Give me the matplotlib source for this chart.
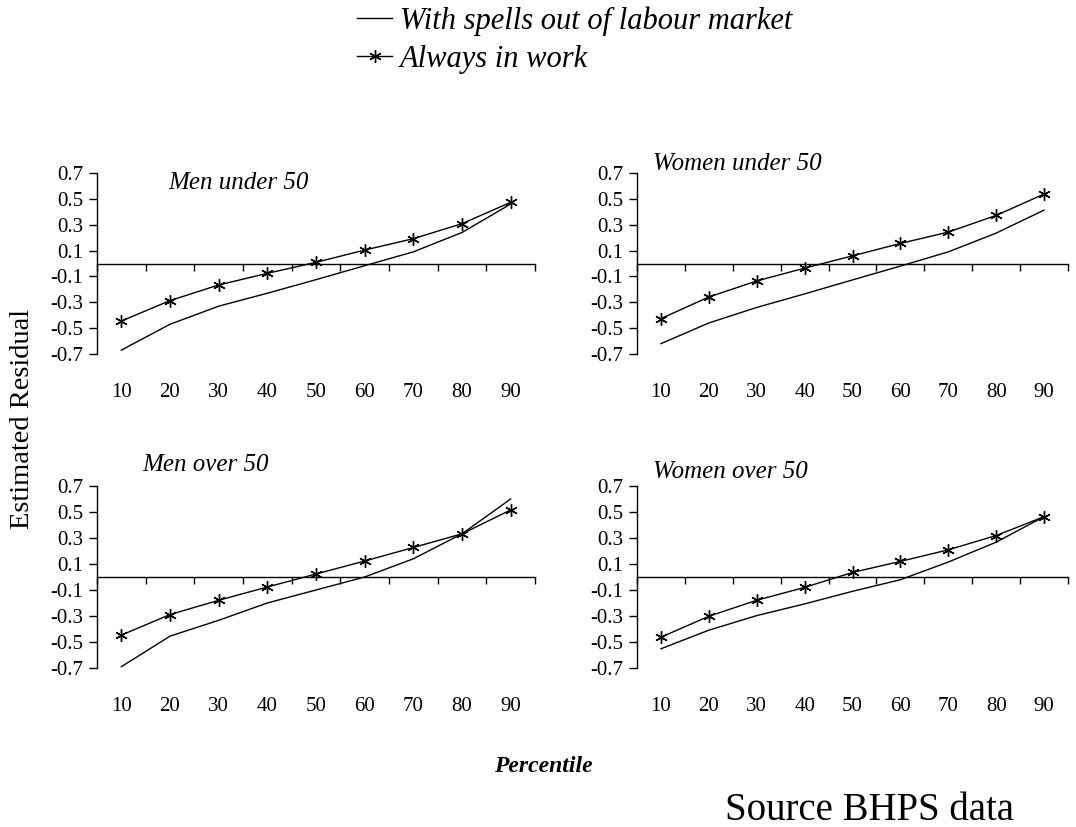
import matplotlib
matplotlib.use("Agg")
import matplotlib.pyplot as plt
from matplotlib.lines import Line2D

plt.rcParams['font.family'] = ['Liberation Serif', 'DejaVu Serif']
plt.rcParams['axes.unicode_minus'] = False

# percentiles on the x axis
percentiles = ["10", "20", "30", "40", "50", "60", "70", "80", "90"]
y_ticks = [0.7, 0.5, 0.3, 0.1, -0.1, -0.3, -0.5, -0.7]

panel_titles = ["Men under 50", "Women under 50", "Men over 50", "Women over 50"]

# with spells out of labour market (plain line)
men_u50_spells = [-0.67, -0.47, -0.33, -0.23, -0.125, -0.017, 0.09, 0.24, 0.46]
women_u50_spells = [-0.62, -0.46, -0.34, -0.235, -0.127, -0.02, 0.09, 0.235, 0.413]
men_o50_spells = [-0.69, -0.455, -0.333, -0.2, -0.1, 0.0, 0.14, 0.332, 0.60]
women_o50_spells = [-0.552, -0.409, -0.297, -0.207, -0.11, -0.021, 0.115, 0.268, 0.464]

# always in work (line with stars)
men_u50_work = [-0.445, -0.287, -0.166, -0.076, 0.009, 0.104, 0.192, 0.308, 0.473]
women_u50_work = [-0.426, -0.259, -0.135, -0.036, 0.059, 0.155, 0.243, 0.372, 0.537]
men_o50_work = [-0.447, -0.289, -0.179, -0.077, 0.023, 0.123, 0.227, 0.332, 0.516]
women_o50_work = [-0.463, -0.302, -0.179, -0.08, 0.035, 0.12, 0.209, 0.319, 0.464]

spells = [men_u50_spells, women_u50_spells, men_o50_spells, women_o50_spells]
work = [men_u50_work, women_u50_work, men_o50_work, women_o50_work]

W, H = 1076, 827
fig = plt.figure(figsize=(W / 100, H / 100), dpi=100)

#panel boxes in pixels: left, top, width, height
boxes = [(97, 173, 438, 181), (637, 173, 431, 181),
         (97, 486, 438, 182), (637, 486, 431, 182)]
#title positions: left x, baseline y (pixels)
title_pos = [(168, 189), (653, 170), (142, 471), (653, 478)]

star = (6, 2, 0)
x = list(range(len(percentiles)))

for i in range(4):
    l, t, w, h = boxes[i]
    ax = fig.add_axes([l / W, 1 - (t + h) / H, w / W, h / H])
    ax.plot(x, spells[i], color="black", lw=1.0, clip_on=False)
    ax.plot(x, work[i], color="black", lw=1.0, marker=star, ms=9, mew=1.0, clip_on=False)

    ax.set_xlim(-0.5, 8.5)
    ax.set_ylim(-0.7, 0.7)
    ax.spines['top'].set_visible(False)
    ax.spines['right'].set_visible(False)
    ax.spines['bottom'].set_position(('data', 0))
    ax.spines['left'].set_linewidth(1.0)
    ax.spines['bottom'].set_linewidth(1.0)

    ax.set_yticks(y_ticks)
    ax.set_yticklabels(["%.1f" % v for v in y_ticks])
    ax.tick_params(axis='y', direction='out', length=6, width=1, labelsize=15, pad=4)

    #tick marks between categories on the zero line
    ax.set_xticks([v - 0.5 for v in range(len(percentiles) + 1)])
    ax.tick_params(axis='x', direction='out', length=5, width=1, labelbottom=False)

    #percentile labels sit under the panel
    sec = ax.secondary_xaxis('bottom')
    sec.set_xticks(x, percentiles)
    sec.tick_params(length=0, labelsize=15, pad=21)
    sec.spines['bottom'].set_visible(False)

    tx, ty = title_pos[i]
    fig.text(tx / W, 1 - ty / H, panel_titles[i], fontsize=18, style='italic',
             ha='left', va='baseline')

#legend at top
handles = [Line2D([], [], color="black", lw=1.0),
           Line2D([], [], color="black", lw=1.0, marker=star, ms=9, mew=1.0)]
fig.legend(handles, ["With spells out of labour market", "Always in work"],
           loc='upper left', bbox_to_anchor=(357 / W, 1 - 6 / H), frameon=False,
           prop={'size': 22, 'style': 'italic'}, handlelength=1.15,
           handletextpad=0.25, labelspacing=0.3, borderpad=0, borderaxespad=0)

fig.text(23 / W, 1 - 419 / H, "Estimated Residual", rotation=90, fontsize=20.5,
         ha='center', va='center')
fig.text(543 / W, 1 - 767 / H, "Percentile", fontsize=17, style='italic',
         weight='bold', ha='center', va='center')
fig.text(725 / W, 1 - 820 / H, "Source BHPS data", fontsize=28,
         ha='left', va='baseline')

fig.savefig("out.png", dpi=100)
